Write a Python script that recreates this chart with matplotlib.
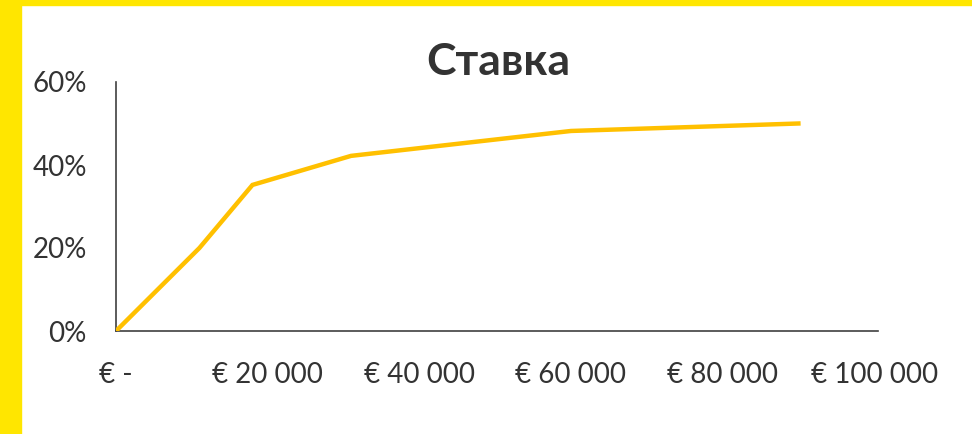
import matplotlib
matplotlib.use("Agg")
import matplotlib.pyplot as plt
from matplotlib.patches import Rectangle
from matplotlib.ticker import FuncFormatter

income = [0, 11000, 18000, 31000, 60000, 90000]
rate = [0.0, 0.20, 0.352, 0.422, 0.482, 0.50]
x_ticks = [0, 20000, 40000, 60000, 80000, 100000]
y_ticks = [0.0, 0.2, 0.4, 0.6]
title = "Ставка"

W, H = 972, 434
fig = plt.figure(figsize=(W / 100, H / 100), dpi=100)
fig.patch.set_facecolor("white")
plt.rcParams['font.family'] = ['Lato', 'DejaVu Sans']

# yellow frame strips
fig.add_artist(Rectangle((0, 0), 21 / W, 1, transform=fig.transFigure, color="#FFE600", zorder=0))
fig.add_artist(Rectangle((0, 1 - 5 / H), 1, 5 / H, transform=fig.transFigure, color="#FFE600", zorder=0))

ax = fig.add_axes([116 / W, 1 - 331 / H, (878 - 116) / W, (331 - 82) / H])
ax.plot(income, rate, color="#FFC000", lw=3.2, solid_joinstyle="miter", zorder=3)
ax.set_xlim(0, 100500)
ax.set_ylim(0, 0.6)
ax.set_xticks(x_ticks)
ax.set_yticks(y_ticks)


def fx(v, p):
    if v == 0:
        return "€ -"
    return "€ " + f"{int(v):,}".replace(",", " ")


ax.xaxis.set_major_formatter(FuncFormatter(fx))
ax.yaxis.set_major_formatter(FuncFormatter(lambda v, p: f"{int(round(v * 100))}%"))
for s in ["top", "right"]:
    ax.spines[s].set_visible(False)
for s in ["left", "bottom"]:
    ax.spines[s].set_color("#404040")
    ax.spines[s].set_linewidth(1.2)
ax.tick_params(length=0, labelsize=20, colors="#333333", pad=0)
ax.tick_params(axis="x", pad=22)
ax.tick_params(axis="y", pad=21)
fig.text(498 / W, 1 - 62 / H, title, ha="center", va="center", fontsize=32, fontweight="bold", color="#333333")

fig.savefig("out.png", dpi=100, facecolor="white")
